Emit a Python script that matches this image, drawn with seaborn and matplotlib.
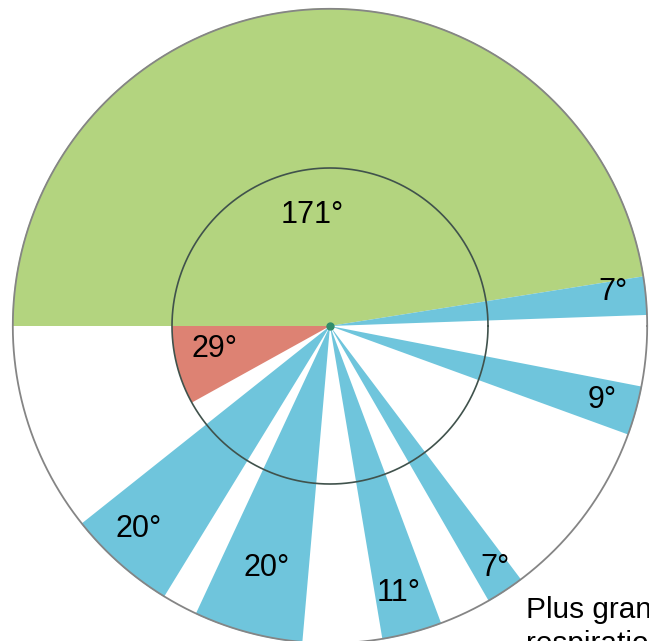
import numpy as np
import matplotlib
matplotlib.use("Agg")
import matplotlib.pyplot as plt
import seaborn as sns

# Angular segments (degrees) and where each one starts (counter-clockwise from east)
segment_labels = ["171°", "7°", "9°", "7°", "11°", "20°", "20°", "29°"]
segment_degrees = [171, 7, 9, 7, 11, 20, 20, 29]
segment_start = [9, 2, 340, 300, 279.5, 245, 218.5, 180]
segment_kind = ["green", "blue", "blue", "blue", "blue", "blue", "blue", "red"]

# Label anchor points in polar form (angle in degrees, radius in px)
label_theta = [99.2, 6.9, 344.8, 304.3, 284.5, 255.4, 226.7, 191.2]
label_radius = [112, 285, 282, 293, 276, 250, 279, 118]

R_OUT = 318
R_IN = 158

palette = {"green": "#b3d47f", "blue": "#6fc5dc", "red": "#dd8273"}
radius_for = {"green": R_OUT, "blue": R_OUT, "red": R_IN}

sns.set_theme(style="white")
plt.rcParams["font.family"] = ["Liberation Sans", "DejaVu Sans"]

W, H = 649, 641
cx, cy = 330, 326
fig = plt.figure(figsize=(W / 100, H / 100), dpi=100)
fig.patch.set_facecolor("white")
ax = fig.add_axes([(cx - R_OUT) / W, (H - cy - R_OUT) / H, 2 * R_OUT / W, 2 * R_OUT / H],
                  projection="polar")
ax.set_ylim(0, R_OUT)
ax.set_axis_off()

for start, span, kind in zip(segment_start, segment_degrees, segment_kind):
    ax.bar(np.deg2rad(start), radius_for[kind], width=np.deg2rad(span), bottom=0,
           align="edge", color=palette[kind], edgecolor="none", linewidth=0)

ring = np.linspace(0, 2 * np.pi, 721)
ax.plot(ring, np.full_like(ring, R_IN), color="#40524c", lw=1.2, clip_on=False)
ax.plot(ring, np.full_like(ring, R_OUT - 0.8), color="#858585", lw=1.3, clip_on=False)
ax.plot([0], [0], "o", ms=5, color="#2f8c6c", clip_on=False)

for lab, th, r in zip(segment_labels, label_theta, label_radius):
    ax.text(np.deg2rad(th), r, lab, ha="center", va="center", fontsize=22, color="black")

fig.text(526 / W, (H - 618) / H, "Plus grande", ha="left", va="baseline",
         fontsize=21.4, color="black")
fig.text(526 / W, (H - 652) / H, "respiration", ha="left", va="baseline",
         fontsize=21.4, color="black")

fig.savefig("out.png", dpi=100)
